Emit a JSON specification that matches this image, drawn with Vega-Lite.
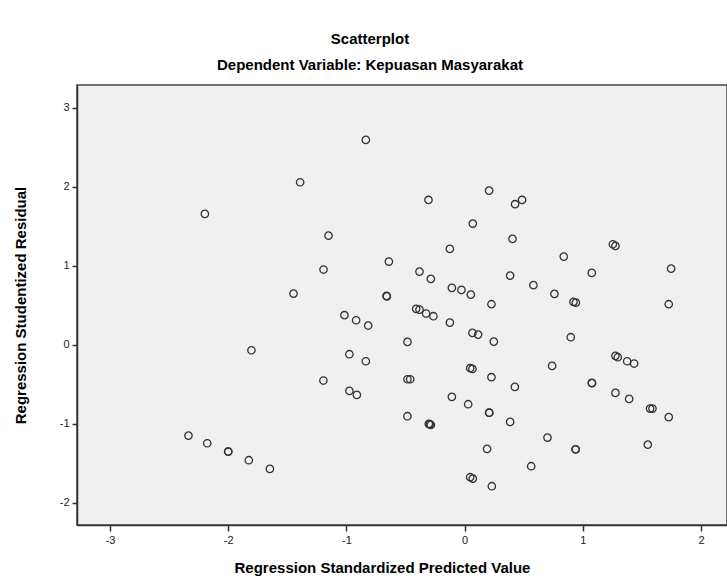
{
  "$schema": "https://vega.github.io/schema/vega-lite/v6.json",
  "autosize": {"type": "none"},
  "padding": {"left": 77, "top": 85, "right": 0, "bottom": 59},
  "width": 650,
  "height": 440,
  "background": "white",
  "config": {
    "font": "Liberation Sans",
    "view": {"fill": "#f0f0f0", "stroke": "#444444", "strokeWidth": 1.5}
  },
  "title": {
    "text": "Scatterplot",
    "subtitle": "Dependent Variable: Kepuasan Masyarakat",
    "anchor": "middle",
    "frame": "group",
    "dx": -32,
    "offset": 12,
    "fontSize": 15,
    "fontWeight": "bold",
    "color": "#000000",
    "subtitleFontSize": 15,
    "subtitleFontWeight": "bold",
    "subtitleColor": "#000000",
    "subtitlePadding": 11,
    "subtitleFont": "Liberation Sans"
  },
  "data": {
    "values": [
      {"pred": -0.836, "resid": 2.595},
      {"pred": -1.392, "resid": 2.059},
      {"pred": -0.306, "resid": 1.835},
      {"pred": -2.198, "resid": 1.658},
      {"pred": -1.152, "resid": 1.384},
      {"pred": -0.641, "resid": 1.055},
      {"pred": -1.194, "resid": 0.954},
      {"pred": -0.382, "resid": 0.928},
      {"pred": -0.286, "resid": 0.835},
      {"pred": -1.448, "resid": 0.65},
      {"pred": -0.661, "resid": 0.62},
      {"pred": -0.658, "resid": 0.615},
      {"pred": 0.207, "resid": 1.953},
      {"pred": 0.486, "resid": 1.835},
      {"pred": 0.427, "resid": 1.781},
      {"pred": 0.069, "resid": 1.536},
      {"pred": 0.405, "resid": 1.342},
      {"pred": -0.125, "resid": 1.215},
      {"pred": 1.254, "resid": 1.274},
      {"pred": 1.276, "resid": 1.253},
      {"pred": 0.839, "resid": 1.118},
      {"pred": 1.747, "resid": 0.966},
      {"pred": 1.076, "resid": 0.911},
      {"pred": 0.385, "resid": 0.877},
      {"pred": -0.108, "resid": 0.722},
      {"pred": -0.027, "resid": 0.696},
      {"pred": 0.052, "resid": 0.637},
      {"pred": 0.582, "resid": 0.756},
      {"pred": 0.76, "resid": 0.646},
      {"pred": 0.921, "resid": 0.544},
      {"pred": 0.941, "resid": 0.536},
      {"pred": 0.227, "resid": 0.515},
      {"pred": 1.727, "resid": 0.515},
      {"pred": -0.41, "resid": 0.456},
      {"pred": -0.382, "resid": 0.447},
      {"pred": -0.326, "resid": 0.397},
      {"pred": -0.264, "resid": 0.363},
      {"pred": -1.017, "resid": 0.376},
      {"pred": -0.918, "resid": 0.312},
      {"pred": -0.816, "resid": 0.245},
      {"pred": -0.484, "resid": 0.038},
      {"pred": -1.804, "resid": -0.068},
      {"pred": -0.975, "resid": -0.118},
      {"pred": -0.836, "resid": -0.207},
      {"pred": -0.484, "resid": -0.435},
      {"pred": -0.461, "resid": -0.435},
      {"pred": -1.195, "resid": -0.451},
      {"pred": -0.975, "resid": -0.582},
      {"pred": -0.912, "resid": -0.633},
      {"pred": -0.484, "resid": -0.903},
      {"pred": -0.303, "resid": -1.0},
      {"pred": -0.286, "resid": -1.013},
      {"pred": -0.295, "resid": -1.005},
      {"pred": -2.337, "resid": -1.148},
      {"pred": -2.178, "resid": -1.245},
      {"pred": -2.001, "resid": -1.35},
      {"pred": -2.0, "resid": -1.352},
      {"pred": -1.826, "resid": -1.46},
      {"pred": -1.648, "resid": -1.57},
      {"pred": -0.125, "resid": 0.282},
      {"pred": 0.066, "resid": 0.152},
      {"pred": 0.114, "resid": 0.13},
      {"pred": 0.247, "resid": 0.042},
      {"pred": 0.898, "resid": 0.097},
      {"pred": 1.276, "resid": -0.139},
      {"pred": 1.296, "resid": -0.156},
      {"pred": 1.375, "resid": -0.207},
      {"pred": 1.434, "resid": -0.236},
      {"pred": 0.74, "resid": -0.266},
      {"pred": 0.047, "resid": -0.295},
      {"pred": 0.066, "resid": -0.304},
      {"pred": 0.227, "resid": -0.409},
      {"pred": 0.425, "resid": -0.532},
      {"pred": 1.076, "resid": -0.481},
      {"pred": 1.078, "resid": -0.483},
      {"pred": 1.276, "resid": -0.608},
      {"pred": 1.392, "resid": -0.684},
      {"pred": 1.569, "resid": -0.806},
      {"pred": 1.589, "resid": -0.806},
      {"pred": 1.727, "resid": -0.915},
      {"pred": -0.108, "resid": -0.658},
      {"pred": 0.03, "resid": -0.751},
      {"pred": 0.207, "resid": -0.857},
      {"pred": 0.209, "resid": -0.859},
      {"pred": 0.385, "resid": -0.975},
      {"pred": 0.701, "resid": -1.173},
      {"pred": 0.938, "resid": -1.321},
      {"pred": 0.94, "resid": -1.323},
      {"pred": 1.55, "resid": -1.262},
      {"pred": 0.19, "resid": -1.316},
      {"pred": 0.563, "resid": -1.536},
      {"pred": 0.047, "resid": -1.675},
      {"pred": 0.069, "resid": -1.692},
      {"pred": 0.23, "resid": -1.789}
    ]
  },
  "mark": {
    "type": "point",
    "shape": "circle",
    "filled": false,
    "stroke": "#333333",
    "strokeWidth": 1.3,
    "size": 55,
    "opacity": 1
  },
  "encoding": {
    "x": {
      "field": "pred",
      "type": "quantitative",
      "scale": {"domain": [-3.28, 2.22], "nice": false, "zero": false},
      "axis": {
        "title": "Regression Standardized Predicted Value",
        "values": [-3, -2, -1, 0, 1, 2],
        "labelExpr": "toString(datum.value)",
        "grid": false,
        "domain": true,
        "domainColor": "#333333",
        "domainWidth": 1.5,
        "tickColor": "#333333",
        "tickSize": 6,
        "tickWidth": 1.5,
        "labelFontSize": 11,
        "labelColor": "#222222",
        "labelPadding": 3,
        "labelFlush": false,
        "titleFontSize": 15,
        "titleFontWeight": "bold",
        "titleColor": "#000000",
        "titleBaseline": "middle",
        "titleAlign": "center",
        "titleX": 305,
        "titleY": 42
      }
    },
    "y": {
      "field": "resid",
      "type": "quantitative",
      "scale": {"domain": [-2.28, 3.29], "nice": false, "zero": false},
      "axis": {
        "title": "Regression Studentized Residual",
        "values": [-2, -1, 0, 1, 2, 3],
        "labelExpr": "toString(datum.value)",
        "grid": false,
        "domain": true,
        "domainColor": "#333333",
        "domainWidth": 1.5,
        "tickColor": "#333333",
        "tickSize": 5,
        "tickWidth": 1.5,
        "labelFontSize": 11,
        "labelColor": "#222222",
        "labelPadding": 3,
        "labelFlush": false,
        "titleFontSize": 15,
        "titleFontWeight": "bold",
        "titleColor": "#000000",
        "titleAngle": -90,
        "titleAlign": "center",
        "titleBaseline": "middle",
        "titleX": -57,
        "titleY": 220
      }
    }
  }
}
